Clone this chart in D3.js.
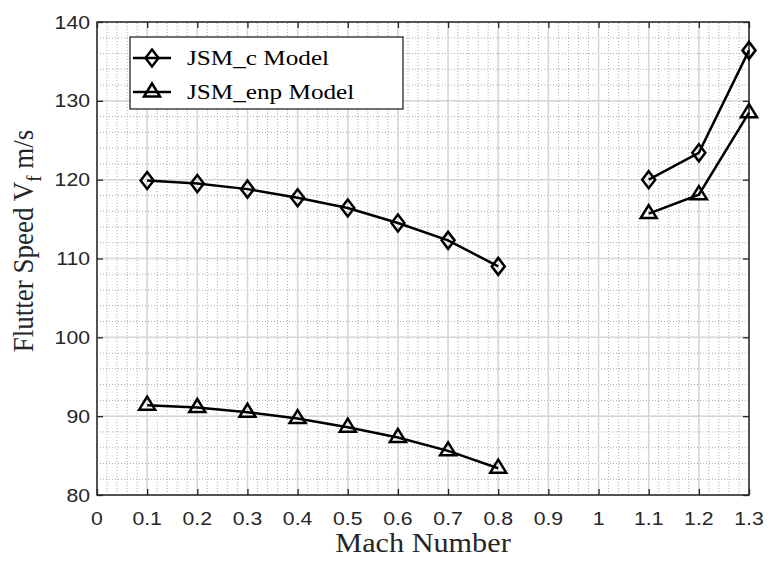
<!DOCTYPE html>
<html>
<head>
<meta charset="utf-8">
<script src="https://cdn.jsdelivr.net/npm/d3@7"></script>
<style>
  html, body { margin: 0; padding: 0; background: #fff; }
  svg { display: block; }
</style>
</head>
<body>
<div id="chart"></div>
<script>
// ---------- Data ----------
const machLow = [0.1, 0.2, 0.3, 0.4, 0.5, 0.6, 0.7, 0.8];
const machHigh = [1.1, 1.2, 1.3];
const jsmCLow = [119.9, 119.5, 118.8, 117.7, 116.4, 114.5, 112.3, 109.0];
const jsmCHigh = [120.0, 123.4, 136.4];
const jsmEnpLow = [91.4, 91.1, 90.5, 89.7, 88.6, 87.3, 85.6, 83.4];
const jsmEnpHigh = [115.7, 118.1, 128.5];
const xTicks = [0, 0.1, 0.2, 0.3, 0.4, 0.5, 0.6, 0.7, 0.8, 0.9, 1, 1.1, 1.2, 1.3];
const yTicks = [80, 90, 100, 110, 120, 130, 140];
const seriesNames = ['JSM_c Model', 'JSM_enp Model'];

// ---------- Setup ----------
const W = 769, H = 561;
const m = { left: 97, right: 20, top: 22, bottom: 66 };
const sans = "'Liberation Sans', Arial, sans-serif";
const serif = "'Liberation Serif', 'Times New Roman', serif";

const svg = d3.select('#chart').append('svg')
    .attr('width', W).attr('height', H);

const x = d3.scaleLinear().domain([0, 1.3]).range([m.left, W - m.right]);
const y = d3.scaleLinear().domain([80, 140]).range([H - m.bottom, m.top]);

// ---------- Grid ----------
const minorX = d3.range(0, 1.3001, 0.02);
const minorY = d3.range(80, 140.001, 2);
const grid = svg.append('g');

grid.selectAll('.mx').data(minorX).join('line')
    .attr('x1', d => x(d)).attr('x2', d => x(d))
    .attr('y1', y(80)).attr('y2', y(140))
    .attr('stroke', '#aaa').attr('stroke-width', 1).attr('stroke-dasharray', '1,2');
grid.selectAll('.my').data(minorY).join('line')
    .attr('y1', d => y(d)).attr('y2', d => y(d))
    .attr('x1', x(0)).attr('x2', x(1.3))
    .attr('stroke', '#aaa').attr('stroke-width', 1).attr('stroke-dasharray', '1,2');

grid.selectAll('.gx').data(xTicks).join('line')
    .attr('x1', d => x(d)).attr('x2', d => x(d))
    .attr('y1', y(80)).attr('y2', y(140))
    .attr('stroke', '#d6d6d6').attr('stroke-width', 1.5);
grid.selectAll('.gy').data(yTicks).join('line')
    .attr('y1', d => y(d)).attr('y2', d => y(d))
    .attr('x1', x(0)).attr('x2', x(1.3))
    .attr('stroke', '#d6d6d6').attr('stroke-width', 1.5);

// ---------- Axes (box with inward ticks) ----------
const axisColor = '#262626';
const tickLen = 6;
function styleAxis(g) {
    g.select('.domain').remove();
    g.selectAll('.tick line').attr('stroke', axisColor).attr('stroke-width', 1.3);
    g.selectAll('.tick text').remove();
}
svg.append('g').attr('transform', `translate(0,${y(80)})`)
    .call(d3.axisBottom(x).tickValues(xTicks).tickSizeInner(-tickLen).tickSizeOuter(0)).call(styleAxis);
svg.append('g').attr('transform', `translate(0,${y(140)})`)
    .call(d3.axisTop(x).tickValues(xTicks).tickSizeInner(-tickLen).tickSizeOuter(0)).call(styleAxis);
svg.append('g').attr('transform', `translate(${x(0)},0)`)
    .call(d3.axisLeft(y).tickValues(yTicks).tickSizeInner(-tickLen).tickSizeOuter(0)).call(styleAxis);
svg.append('g').attr('transform', `translate(${x(1.3)},0)`)
    .call(d3.axisRight(y).tickValues(yTicks).tickSizeInner(-tickLen).tickSizeOuter(0)).call(styleAxis);

svg.append('rect')
    .attr('x', x(0)).attr('y', y(140))
    .attr('width', x(1.3) - x(0)).attr('height', y(80) - y(140))
    .attr('fill', 'none').attr('stroke', axisColor).attr('stroke-width', 1.5);

// tick labels (slightly widened to match the reference)
const sx = 1.18;
svg.append('g').selectAll('text').data(xTicks).join('text')
    .attr('transform', d => `translate(${x(d)},${y(80) + 30}) scale(${sx},1)`)
    .attr('text-anchor', 'middle')
    .attr('font-family', sans).attr('font-size', 18).attr('fill', '#262626')
    .text(d => d3.format('~g')(d));
svg.append('g').selectAll('text').data(yTicks).join('text')
    .attr('transform', d => `translate(${x(0) - 7},${y(d) + 6.5}) scale(${sx},1)`)
    .attr('text-anchor', 'end')
    .attr('font-family', sans).attr('font-size', 18).attr('fill', '#262626')
    .text(d => d);

// axis titles
svg.append('text')
    .attr('transform', `translate(${(x(0) + x(1.3)) / 2},${H - 9}) scale(1.12,1)`)
    .attr('text-anchor', 'middle')
    .attr('font-family', serif).attr('font-size', 27).attr('fill', '#262626')
    .text('Mach Number');

const yl = svg.append('text')
    .attr('transform', `translate(33,241) scale(1.12,1) rotate(-90)`)
    .attr('text-anchor', 'middle')
    .attr('font-family', serif).attr('font-size', 27).attr('fill', '#262626');
yl.append('tspan').text('Flutter Speed V');
yl.append('tspan').attr('font-size', 19).attr('dy', 7).text('f');
yl.append('tspan').attr('dy', -7).text(' m/s');

// ---------- Series ----------
const diamond = 'M0,-8.5L6.5,0L0,8.5L-6.5,0Z';
const triangle = 'M0,-8.5L8,4.5L-8,4.5Z';
const line = d3.line().x(d => x(d[0])).y(d => y(d[1]));
const segments = [
    { xs: machLow, ys: jsmCLow, marker: diamond },
    { xs: machHigh, ys: jsmCHigh, marker: diamond },
    { xs: machLow, ys: jsmEnpLow, marker: triangle },
    { xs: machHigh, ys: jsmEnpHigh, marker: triangle }
];

const plot = svg.append('g');
segments.forEach(s => {
    const pts = s.xs.map((v, i) => [v, s.ys[i]]);
    plot.append('path')
        .attr('d', line(pts))
        .attr('fill', 'none').attr('stroke', '#000').attr('stroke-width', 2.5);
    plot.selectAll(null).data(pts).join('path')
        .attr('d', s.marker)
        .attr('transform', d => `translate(${x(d[0])},${y(d[1])})`)
        .attr('fill', 'none').attr('stroke', '#000').attr('stroke-width', 2.5)
        .attr('stroke-linejoin', 'miter');
});

// ---------- Legend ----------
const lg = svg.append('g');
lg.append('rect')
    .attr('x', 130).attr('y', 37).attr('width', 273).attr('height', 72)
    .attr('fill', '#fff').attr('stroke', '#262626').attr('stroke-width', 1.3);
[diamond, triangle].forEach((mk, i) => {
    const ly = 58 + i * 34;
    lg.append('line').attr('x1', 133).attr('x2', 171).attr('y1', ly).attr('y2', ly)
        .attr('stroke', '#000').attr('stroke-width', 2.5);
    lg.append('path').attr('d', mk).attr('transform', `translate(152,${ly})`)
        .attr('fill', 'none').attr('stroke', '#000').attr('stroke-width', 2.5);
    lg.append('text')
        .attr('transform', `translate(187,${ly + 7}) scale(1.2,1)`)
        .attr('font-family', serif).attr('font-size', 21).attr('fill', '#000')
        .text(seriesNames[i]);
});
</script>
</body>
</html>
